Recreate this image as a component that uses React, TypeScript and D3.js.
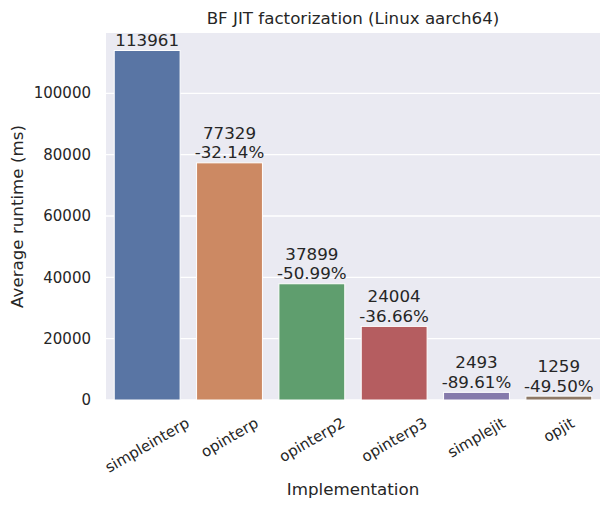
import React, { useEffect, useRef } from "react";
import * as d3 from "d3";

const implementations = ["simpleinterp", "opinterp", "opinterp2", "opinterp3", "simplejit", "opjit"];
const runtimes = [113961, 77329, 37899, 24004, 2493, 1259];
const barColors = ["#5975a4", "#cc8963", "#5f9e6e", "#b55d60", "#857aab", "#8d7866"];
const yTicks = [0, 20000, 40000, 60000, 80000, 100000];

const FONT = "DejaVu Sans, sans-serif";
const TEXT = "#262626";
const TICK_FS = 15;
const LABEL_FS = 16.7;

const App = () => {
  const svgRef = useRef<SVGSVGElement>(null);

  useEffect(() => {
    const width = 610;
    const height = 509;
    const plot = { left: 106, right: 600, top: 33, bottom: 400 };

    const svg = d3.select(svgRef.current);
    svg.selectAll("*").remove();
    svg.attr("width", width).attr("height", height);

    const x = d3.scaleBand()
      .domain(implementations)
      .range([plot.left, plot.right])
      .paddingInner(0.2)
      .paddingOuter(0.1);

    // matplotlib adds 5% headroom above the tallest bar
    const y = d3.scaleLinear()
      .domain([0, d3.max(runtimes)! * 1.05])
      .range([plot.bottom, plot.top]);

    // background
    svg.append("rect")
      .attr("x", plot.left)
      .attr("y", plot.top)
      .attr("width", plot.right - plot.left)
      .attr("height", plot.bottom - plot.top)
      .attr("fill", "#eaeaf2");

    // horizontal grid
    svg.append("g")
      .selectAll("line")
      .data(yTicks)
      .join("line")
      .attr("x1", plot.left)
      .attr("x2", plot.right)
      .attr("y1", (d) => y(d))
      .attr("y2", (d) => y(d))
      .attr("stroke", "white")
      .attr("stroke-width", 1.3);

    // bars
    svg.append("g")
      .selectAll("rect")
      .data(implementations)
      .join("rect")
      .attr("x", (d) => x(d)!)
      .attr("width", x.bandwidth())
      .attr("y", (d, i) => y(runtimes[i]))
      .attr("height", (d, i) => y(0) - y(runtimes[i]))
      .attr("fill", (d, i) => barColors[i])
      .attr("stroke", "white")
      .attr("stroke-width", 1);

    // bar labels: value, plus change vs previous bar
    const labels = svg.append("g")
      .attr("font-family", FONT)
      .attr("font-size", LABEL_FS)
      .attr("fill", TEXT)
      .attr("text-anchor", "middle");

    implementations.forEach((name, i) => {
      const cx = x(name)! + x.bandwidth() / 2;
      const base = y(runtimes[i]) - 4.5;
      const lines = [String(runtimes[i])];
      if (i > 0) {
        const change = (runtimes[i] / runtimes[i - 1] - 1) * 100;
        lines.push(change.toFixed(2) + "%");
      }
      lines.forEach((txt, j) => {
        labels.append("text")
          .attr("x", cx)
          .attr("y", base - (lines.length - 1 - j) * 19.6)
          .text(txt);
      });
    });

    // y tick labels
    svg.append("g")
      .selectAll("text")
      .data(yTicks)
      .join("text")
      .attr("x", 91)
      .attr("y", (d) => y(d) + 0.346 * TICK_FS)
      .attr("text-anchor", "end")
      .attr("font-family", FONT)
      .attr("font-size", TICK_FS)
      .attr("fill", TEXT)
      .text((d) => String(d));

    // x tick labels, rotated 30 degrees, bbox centered under the tick
    const xt = svg.append("g")
      .attr("font-family", FONT)
      .attr("font-size", TICK_FS)
      .attr("fill", TEXT);

    const h = 1.164 * TICK_FS;
    const top = 414;
    implementations.forEach((name) => {
      const cx = x(name)! + x.bandwidth() / 2;
      const t = xt.append("text")
        .attr("text-anchor", "middle")
        .text(name);
      const w = (t.node() as SVGTextElement).getComputedTextLength();
      const bboxH = w * 0.5 + h * Math.cos(Math.PI / 6);
      const cy = top + bboxH / 2;
      t.attr("x", cx)
        .attr("y", cy + 0.346 * TICK_FS)
        .attr("transform", `rotate(-30, ${cx}, ${cy})`);
    });

    // axis labels and title
    svg.append("text")
      .attr("x", (plot.left + plot.right) / 2)
      .attr("y", 495)
      .attr("text-anchor", "middle")
      .attr("font-family", FONT)
      .attr("font-size", LABEL_FS)
      .attr("fill", TEXT)
      .text("Implementation");

    const ymid = (plot.top + plot.bottom) / 2;
    svg.append("text")
      .attr("transform", `translate(23, ${ymid}) rotate(-90)`)
      .attr("text-anchor", "middle")
      .attr("font-family", FONT)
      .attr("font-size", LABEL_FS)
      .attr("fill", TEXT)
      .text("Average runtime (ms)");

    svg.append("text")
      .attr("x", (plot.left + plot.right) / 2)
      .attr("y", 24)
      .attr("text-anchor", "middle")
      .attr("font-family", FONT)
      .attr("font-size", LABEL_FS)
      .attr("fill", TEXT)
      .text("BF JIT factorization (Linux aarch64)");
  }, []);

  return (
    <div style={{ position: "absolute", left: 0, top: 0, background: "white" }}>
      <svg ref={svgRef} style={{ display: "block" }}></svg>
    </div>
  );
};

export default App;
